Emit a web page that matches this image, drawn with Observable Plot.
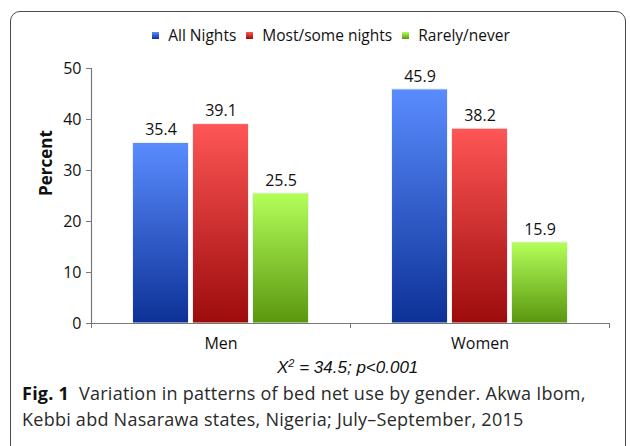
<!DOCTYPE html>
<html>
<head>
<meta charset="utf-8">
<script src="https://cdn.jsdelivr.net/npm/d3@7"></script>
<script src="https://cdn.jsdelivr.net/npm/@observablehq/plot@0.6"></script>
<style>
  html, body { margin: 0; padding: 0; background: #fff; }
  #root { position: relative; width: 630px; height: 446px; overflow: hidden; font-family: "Open Sans", sans-serif; }
  #frame { position: absolute; left: 10px; top: 11px; width: 616px; height: 460px; border: 1.5px solid #4a4a4a; border-radius: 10px; box-sizing: border-box; }
  #legend { position: absolute; top: 24px; left: 16px; width: 630px; display: flex; justify-content: center; font-size: 15.5px; color: #111; }
  #legend .item { display: flex; align-items: center; margin: 0 5px; }
  #legend .sw { width: 7px; height: 7px; margin-right: 9px; }
  #chart { position: absolute; left: 0; top: 50px; }
  #stat { position: absolute; top: 358px; left: 277px; white-space: nowrap; font-family: "Liberation Sans", Arial, sans-serif; font-style: italic; font-size: 17px; color: #111; }
  #stat sup { font-size: 11px; vertical-align: 6px; line-height: 0; }
  #caption { position: absolute; left: 22px; top: 380px; width: 610px; white-space: nowrap; font-size: 18px; line-height: 26px; color: #2a2a2a; letter-spacing: 0.25px; }
  #caption b { font-weight: 700; color: #111; }
</style>
</head>
<body>
<div id="root">
  <div id="frame"></div>
  <div id="legend"></div>
  <div id="chart"></div>
  <div id="stat">X<sup>2</sup> = 34.5; p&lt;0.001</div>
  <div id="caption"><b>Fig. 1</b>&nbsp; Variation in patterns of bed net use by gender. Akwa Ibom,<br>Kebbi abd Nasarawa states, Nigeria; July–September, 2015</div>
</div>
<script>
// ---- data ----
const genders = ["Men", "Women"];
const series = ["All Nights", "Most/some nights", "Rarely/never"];
const menValues = [35.4, 39.1, 25.5];
const womenValues = [45.9, 38.2, 15.9];
const yTicks = [0, 10, 20, 30, 40, 50];

// ---- styles ----
const gradTop = ["#5a8cff", "#ff5656", "#b4ff5a"];
const gradBottom = ["#0c3196", "#9c0b0b", "#5a960f"];

const valuesByGender = [menValues, womenValues];
const rows = [];
genders.forEach((g, gi) => series.forEach((s, si) => rows.push({gender: g, gi, series: s, value: valuesByGender[gi][si]})));

// sub-band within each gender group (group spans one unit on the x scale)
const sub = d3.scaleBand().domain(series).range([0, 1]).paddingInner(0.067).paddingOuter(0.692);
const x1 = d => d.gi + sub(d.series);
const x2 = d => d.gi + sub(d.series) + sub.bandwidth();
const xc = d => d.gi + sub(d.series) + sub.bandwidth() / 2;

// legend
const legend = document.getElementById("legend");
series.forEach((s, i) => {
  const it = document.createElement("div");
  it.className = "item";
  it.innerHTML = `<span class="sw" style="background:linear-gradient(${gradTop[i]},${gradBottom[i]})"></span><span>${s}</span>`;
  legend.appendChild(it);
});

const chart = Plot.plot({
  width: 630,
  height: 310,
  marginLeft: 91,
  marginRight: 21,
  marginTop: 18,
  marginBottom: 37,
  style: {fontFamily: "Open Sans, sans-serif", fontSize: "16px", color: "#111", background: "transparent"},
  x: {domain: [0, genders.length], axis: null},
  y: {domain: [0, 50], axis: null},
  color: {domain: series, range: series.map((s, i) => `url(#grad${i})`)},
  marks: [
    Plot.rectY(rows, {x1, x2, y1: 0, y2: "value", fill: "series", stroke: "#eef0f2", strokeWidth: 1}),
    Plot.text(rows, {x: xc, y: "value", text: d => d.value.toFixed(1), dy: -13, fontSize: 16, fill: "#111"}),
    Plot.ruleY([0], {stroke: "#777", strokeWidth: 1.2}),
    Plot.ruleX([0], {y1: 0, y2: 50, stroke: "#777", strokeWidth: 1.2}),
    Plot.axisY({ticks: yTicks, tickSize: 5, tickPadding: 5, fontSize: 16, stroke: "#777", label: null}),
    Plot.axisX({ticks: d3.range(genders.length + 1), tickSize: 5, tickFormat: () => "", stroke: "#777", label: null}),
    Plot.axisX({ticks: genders.map((g, i) => i + 0.5), tickSize: 0, tickPadding: 14, tickFormat: t => genders[Math.floor(t)], fontSize: 16, label: null}),
    Plot.text(["Percent"], {frameAnchor: "left", dx: -45, rotate: -90, fontSize: 17, fontWeight: "bold", fill: "#111"})
  ]
});

// gradient defs
const ns = "http://www.w3.org/2000/svg";
const defs = document.createElementNS(ns, "defs");
series.forEach((s, i) => {
  const lg = document.createElementNS(ns, "linearGradient");
  lg.setAttribute("id", `grad${i}`);
  lg.setAttribute("x1", "0"); lg.setAttribute("y1", "0");
  lg.setAttribute("x2", "0"); lg.setAttribute("y2", "1");
  [[0, gradTop[i]], [1, gradBottom[i]]].forEach(([o, c]) => {
    const st = document.createElementNS(ns, "stop");
    st.setAttribute("offset", o);
    st.setAttribute("stop-color", c);
    lg.appendChild(st);
  });
  defs.appendChild(lg);
});
chart.insertBefore(defs, chart.firstChild);
document.getElementById("chart").appendChild(chart);
</script>
</body>
</html>
